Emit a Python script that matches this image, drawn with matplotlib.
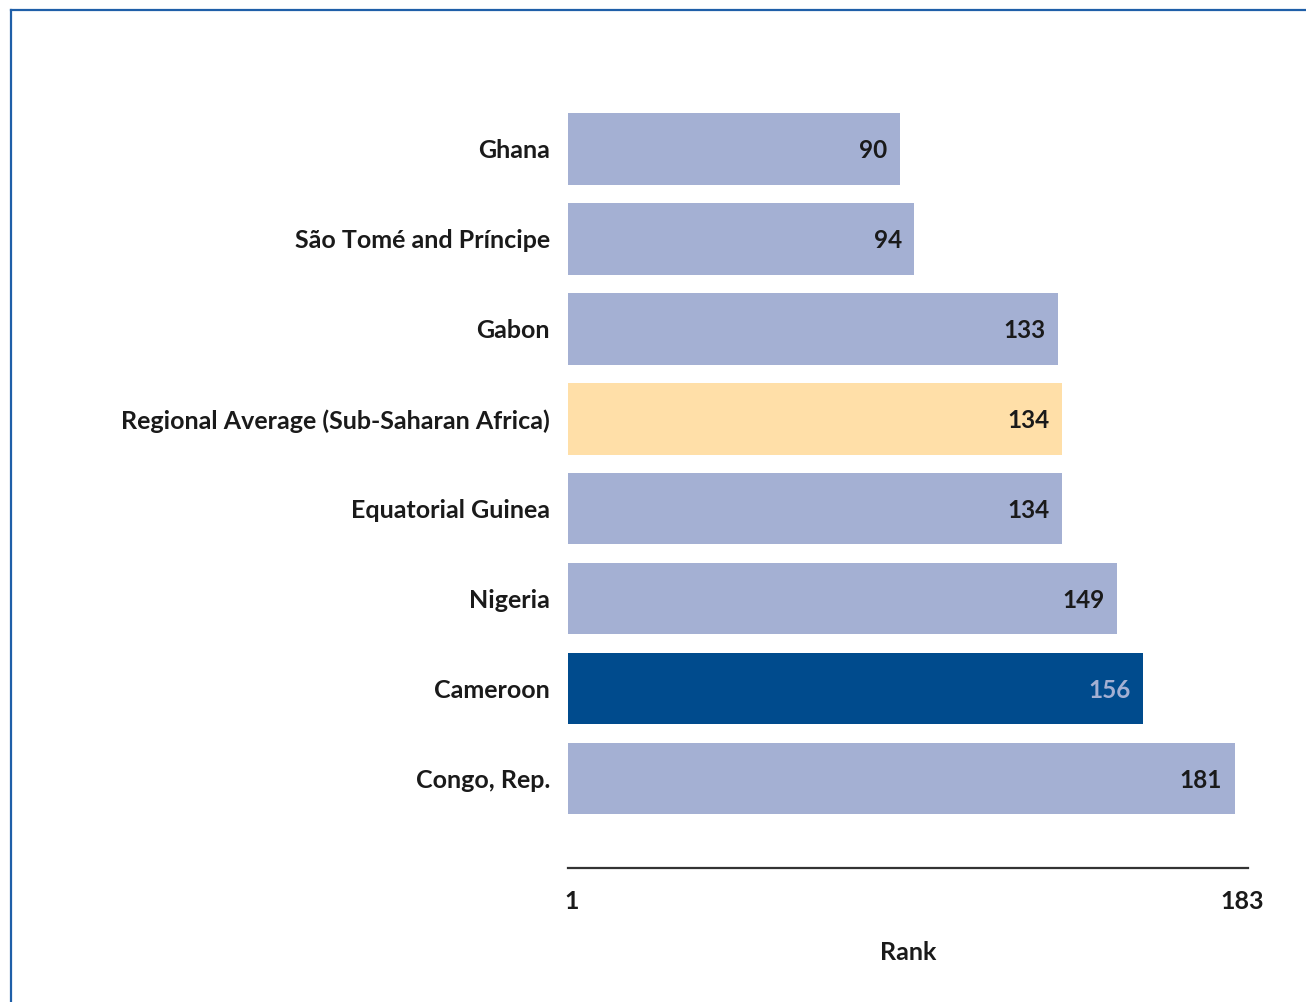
import matplotlib
matplotlib.use("Agg")
import matplotlib.pyplot as plt
from matplotlib.lines import Line2D

categories = ["Ghana", "São Tomé and Príncipe", "Gabon",
              "Regional Average (Sub-Saharan Africa)", "Equatorial Guinea",
              "Nigeria", "Cameroon", "Congo, Rep."]
values = [90, 94, 133, 134, 134, 149, 156, 181]
bar_colors = ["#A4B0D3", "#A4B0D3", "#A4B0D3", "#FFDFA8", "#A4B0D3",
              "#A4B0D3", "#004B8D", "#A4B0D3"]
label_colors = ["#1a1a1a"] * 6 + ["#A4B0D3", "#1a1a1a"]
tick_values = [1, 183]
tick_labels = ["1", "183"]

FONT = "Lato"
FS = 18

fig = plt.figure(figsize=(13.06, 10.02), dpi=100)
ax = fig.add_axes([568/1306, 1 - 868/1002, 680/1306, 809/1002])

ypos = list(range(len(categories)))
ax.barh(ypos, values, height=0.79, color=bar_colors, edgecolor="none", left=0)

for y, v, c in zip(ypos, values, label_colors):
    ax.annotate(str(v), xy=(v, y), xytext=(-9, 0), textcoords="offset points",
                ha="right", va="center_baseline", fontsize=17.5, fontweight="bold",
                color=c, family=FONT)

ax.set_xlim(0, 184.6)
ax.set_ylim(7.99, -1.0)
ax.set_yticks(ypos)
ax.set_yticklabels(categories, fontsize=FS, fontweight="bold", family=FONT, color="#1a1a1a")
for t in ax.get_yticklabels():
    t.set_verticalalignment("center_baseline")
ax.tick_params(axis="y", length=0, pad=13)
ax.set_xticks(tick_values)
ax.set_xticklabels(tick_labels, fontsize=FS, fontweight="bold", family=FONT, color="#1a1a1a")
ax.tick_params(axis="x", length=0, pad=16)
ax.set_xlabel("Rank", fontsize=FS, fontweight="bold", family=FONT, color="#1a1a1a", labelpad=20)

for s in ["top", "right", "left"]:
    ax.spines[s].set_visible(False)
ax.spines["bottom"].set_color("#333333")
ax.spines["bottom"].set_linewidth(1.6)

# frame lines on top and left of figure
fig.add_artist(Line2D([10.5/1306, 1.0], [1 - 10/1002, 1 - 10/1002], transform=fig.transFigure,
                      color="#1F5FA8", linewidth=1.6))
fig.add_artist(Line2D([10.5/1306, 10.5/1306], [0, 1 - 10/1002], transform=fig.transFigure,
                      color="#1F5FA8", linewidth=1.6))

fig.savefig("out.png", dpi=100)
